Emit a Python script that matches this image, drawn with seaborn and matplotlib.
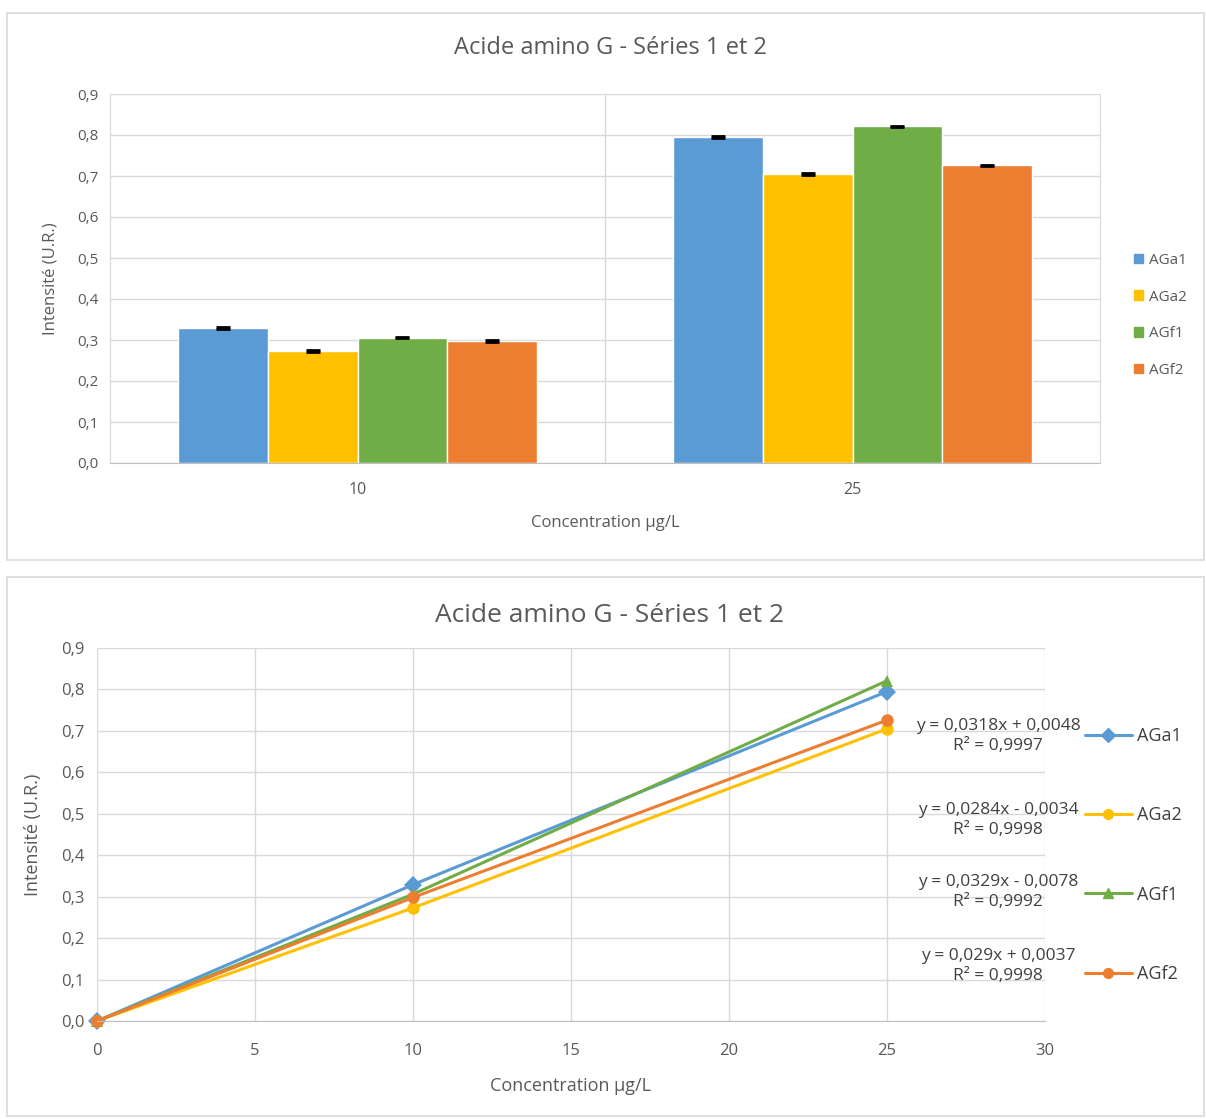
import matplotlib.pyplot as plt
import matplotlib.patches as mpatches
from matplotlib.lines import Line2D
from matplotlib.ticker import FuncFormatter
import seaborn as sns
import pandas as pd

# Données
series = ["AGa1", "AGa2", "AGf1", "AGf2"]
couleurs = ["#5B9BD5", "#FFC000", "#70AD47", "#ED7D31"]
marqueurs = ["D", "o", "^", "o"]
conc_barres = ["10", "25"]
val_10 = [0.329, 0.273, 0.306, 0.298]
val_25 = [0.795, 0.705, 0.821, 0.726]
erreurs = [0.002, 0.002, 0.002, 0.002]
conc_lignes = [0, 10, 25]
equations = ["y = 0,0318x + 0,0048\nR² = 0,9997",
             "y = 0,0284x - 0,0034\nR² = 0,9998",
             "y = 0,0329x - 0,0078\nR² = 0,9992",
             "y = 0,029x + 0,0037\nR² = 0,9998"]
titre = "Acide amino G - Séries 1 et 2"

sns.set_style("white")
plt.rcParams['font.family'] = ['Open Sans', 'DejaVu Sans']
gris = "#595959"
grille = "#d9d9d9"

virg = FuncFormatter(lambda v, p: f"{v:.1f}".replace(".", ","))

fig = plt.figure(figsize=(12.06, 11.19), dpi=100)

# cadres des deux graphiques
for (x0, y0, x1, y1) in [(7, 13, 1204, 560), (7, 577, 1204, 1116)]:
    fig.patches.append(mpatches.Rectangle((x0 / 1206, 1 - y1 / 1119), (x1 - x0) / 1206, (y1 - y0) / 1119,
                                          transform=fig.transFigure, fill=False, edgecolor=grille, lw=1.2))

# ---- graphique en barres ----
df = pd.DataFrame({
    "conc": conc_barres * 4,
    "serie": [s for s in series for _ in conc_barres],
    "val": [v for pair in zip(val_10, val_25) for v in pair],
})
ax1 = fig.add_axes([110 / 1206, 1 - 463 / 1119, 990 / 1206, 369 / 1119])
sns.barplot(data=df, x="conc", y="val", hue="serie", palette=couleurs, width=0.727,
            gap=0, errorbar=None, ax=ax1, legend=False, saturation=1)
for bar, e in zip(ax1.patches, erreurs * 2):
    if bar.get_height() > 0:
        ax1.errorbar(bar.get_x() + bar.get_width() / 2, bar.get_height(), yerr=0.002,
                     color="black", capsize=5, capthick=2, lw=1)
ax1.set_ylim(0, 0.9)
ax1.set_xlim(-0.5, 1.5)
ax1.set_yticks([i / 10 for i in range(10)])
ax1.yaxis.set_major_formatter(virg)
ax1.grid(axis="y", color=grille, lw=1)
ax1.axvline(0.5, color=grille, lw=1)
ax1.set_axisbelow(True)
ax1.spines["top"].set_visible(False)
for s in ["left", "right"]:
    ax1.spines[s].set_color(grille)
ax1.spines["bottom"].set_color("#bfbfbf")
ax1.tick_params(axis="y", length=0, labelsize=11, labelcolor=gris, pad=8)
ax1.tick_params(axis="x", length=0, labelsize=11.5, labelcolor=gris, pad=14)
ax1.set_xlabel("Concentration µg/L", fontsize=12, color=gris, labelpad=12)
ax1.set_ylabel("Intensité (U.R.)", fontsize=12, color=gris, labelpad=14)
fig.text(610 / 1206, 1 - 48 / 1119, titre, ha="center", va="center", fontsize=17, color=gris)
h1 = [mpatches.Patch(color=c, label=s) for s, c in zip(series, couleurs)]
ax1.legend(handles=h1, loc="center left", bbox_to_anchor=(1.02, 0.40), frameon=False,
           handlelength=0.6, handleheight=0.6, handletextpad=0.4, labelspacing=1.42,
           fontsize=11, labelcolor=gris)

# ---- graphique en lignes ----
df2 = pd.DataFrame({
    "conc": conc_lignes * 4,
    "serie": [s for s in series for _ in conc_lignes],
    "val": [v for a, b in zip(val_10, val_25) for v in (0, a, b)],
})
ax2 = fig.add_axes([97 / 1206, 1 - 1021 / 1119, 948 / 1206, 373 / 1119])
sns.lineplot(data=df2, x="conc", y="val", hue="serie", style="serie", palette=couleurs,
             markers=dict(zip(series, marqueurs)), dashes=False, markersize=9,
             markeredgewidth=0, lw=2.2, ax=ax2, legend=False)
ax2.set_xlim(0, 30)
ax2.set_ylim(0, 0.9)
ax2.set_xticks(range(0, 31, 5))
ax2.set_yticks([i / 10 for i in range(10)])
ax2.yaxis.set_major_formatter(virg)
ax2.grid(True, color=grille, lw=1)
ax2.set_axisbelow(True)
for s in ["top", "right", "left"]:
    ax2.spines[s].set_visible(False)
ax2.spines["bottom"].set_color("#bfbfbf")
ax2.tick_params(axis="y", length=0, labelsize=12, labelcolor=gris, pad=9)
ax2.tick_params(axis="x", length=0, labelsize=12, labelcolor=gris, pad=16)
ax2.set_xlabel("Concentration µg/L", fontsize=13, color=gris, labelpad=13)
ax2.set_ylabel("Intensité (U.R.)", fontsize=13, color=gris, labelpad=14)
for line in ax2.lines:
    line.set_clip_on(False)
fig.text(610 / 1206, 1 - 616 / 1119, titre, ha="center", va="center", fontsize=19, color=gris)
h2 = [Line2D([0], [0], color=c, marker=m, markersize=7, lw=2.2, label=s)
      for s, c, m in zip(series, couleurs, marqueurs)]
ax2.legend(handles=h2, loc="center left", bbox_to_anchor=(1.025, 0.445), frameon=False,
           handlelength=2.6, handletextpad=0.3, labelspacing=3.4, fontsize=13, labelcolor="#404040")
for eq, y in zip(equations, [736, 820, 892, 966]):
    fig.text(998 / 1206, 1 - y / 1119, eq, ha="center", va="center", fontsize=12.5,
             color="#404040", multialignment="center", linespacing=1.25)

fig.savefig("out.png", dpi=100, facecolor="white")
